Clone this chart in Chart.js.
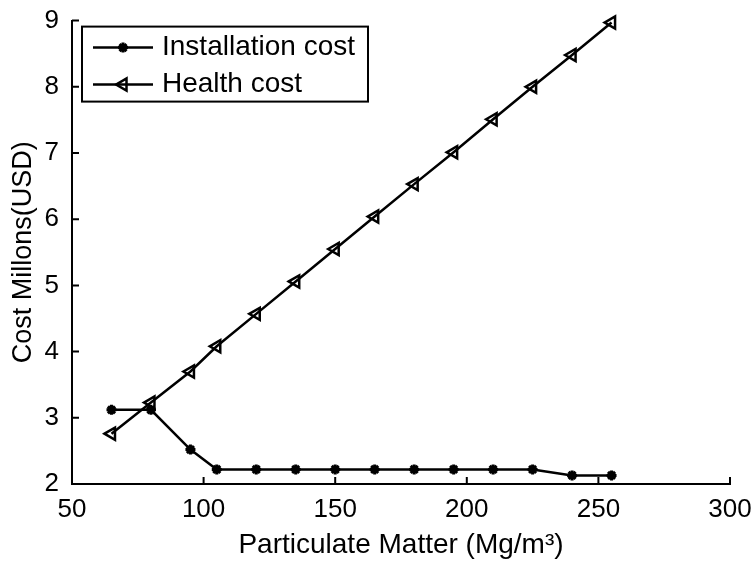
<!DOCTYPE html>
<html>
<head>
<meta charset="utf-8">
<title>Cost vs Particulate Matter</title>
<script src="https://cdn.jsdelivr.net/npm/chart.js@4.4.1/dist/chart.umd.min.js"></script>
<style>
  html, body { margin: 0; padding: 0; background: #fff; }
  #wrap { width: 756px; height: 563px; }
</style>
</head>
<body>
<div id="wrap"><canvas id="myChart" width="756" height="563"></canvas></div>
<script>
// data
const pmLevels = [65, 80, 95, 105, 120, 135, 150, 165, 180, 195, 210, 225, 240, 255];
const installationCost = [3.12, 3.12, 2.52, 2.22, 2.22, 2.22, 2.22, 2.22, 2.22, 2.22, 2.22, 2.22, 2.13, 2.13];
const healthCost = [2.76, 3.23, 3.70, 4.08, 4.57, 5.06, 5.55, 6.04, 6.53, 7.01, 7.51, 8.00, 8.48, 8.97];
const xTicks = [50, 100, 150, 200, 250, 300];
const yTicks = [2, 3, 4, 5, 6, 7, 8, 9];

const fontFamily = '"Liberation Sans", Arial, sans-serif';

// MATLAB style tick marks that point into the plot
const insideTicks = {
  id: 'insideTicks',
  afterDraw(chart) {
    const { ctx, chartArea, scales: { x, y } } = chart;
    ctx.save();
    ctx.strokeStyle = '#000';
    ctx.lineWidth = 2;
    ctx.beginPath();
    xTicks.forEach(v => {
      const px = x.getPixelForValue(v);
      ctx.moveTo(px, chartArea.bottom);
      ctx.lineTo(px, chartArea.bottom - 7);
    });
    yTicks.forEach(v => {
      const py = y.getPixelForValue(v);
      ctx.moveTo(chartArea.left, py);
      ctx.lineTo(chartArea.left + 7, py);
    });
    ctx.stroke();
    ctx.restore();
  }
};

// legend box drawn inside the top-left corner of the plot
const boxLegend = {
  id: 'boxLegend',
  afterDraw(chart) {
    const { ctx, chartArea } = chart;
    const bx = chartArea.left + 10, by = chartArea.top + 6;
    const bw = 286, bh = 75;
    ctx.save();
    ctx.fillStyle = '#fff';
    ctx.fillRect(bx, by, bw, bh);
    ctx.strokeStyle = '#000';
    ctx.lineWidth = 2;
    ctx.strokeRect(bx, by, bw, bh);

    chart.data.datasets.forEach((ds, i) => {
      const rowY = by + 21 + i * 37;
      ctx.strokeStyle = '#000';
      ctx.lineWidth = ds.borderWidth;
      ctx.beginPath();
      ctx.moveTo(bx + 11, rowY);
      ctx.lineTo(bx + 71, rowY);
      ctx.stroke();
      ctx.fillStyle = ds.pointBackgroundColor;
      ctx.lineWidth = ds.pointBorderWidth;
      Chart.helpers.drawPoint(ctx, {
        pointStyle: ds.pointStyle,
        radius: ds.pointRadius,
        rotation: ds.pointRotation,
        borderWidth: ds.pointBorderWidth
      }, bx + 41, rowY);

      ctx.fillStyle = '#000';
      ctx.font = '28px ' + fontFamily;
      ctx.textBaseline = 'middle';
      ctx.textAlign = 'left';
      ctx.fillText(ds.label, bx + 80, rowY);
    });
    ctx.restore();
  }
};

const chartContext = document.getElementById('myChart').getContext('2d');

const chart = new Chart(chartContext, {
  type: 'line',
  data: {
    datasets: [{
      label: 'Installation cost',
      data: pmLevels.map((x, i) => ({ x, y: installationCost[i] })),
      borderColor: '#000',
      borderWidth: 2.5,
      pointStyle: 'star',
      pointRadius: 5,
      pointRotation: 0,
      pointBorderWidth: 3,
      pointBorderColor: '#000',
      pointBackgroundColor: '#000',
      tension: 0,
      clip: false
    }, {
      label: 'Health cost',
      data: pmLevels.map((x, i) => ({ x, y: healthCost[i] })),
      borderColor: '#000',
      borderWidth: 2.5,
      pointStyle: 'triangle',
      pointRadius: 7,
      pointRotation: -90,
      pointBorderWidth: 2.5,
      pointBorderColor: '#000',
      pointBackgroundColor: 'rgba(0,0,0,0)',
      tension: 0,
      clip: false
    }]
  },
  options: {
    responsive: false,
    animation: false,
    events: [],
    layout: {
      padding: { top: 17, right: 26, bottom: 0, left: 0 }
    },
    plugins: {
      legend: { display: false },
      tooltip: { enabled: false }
    },
    scales: {
      x: {
        type: 'linear',
        min: 50,
        max: 300,
        afterBuildTicks: scale => { scale.ticks = xTicks.map(v => ({ value: v })); },
        afterFit: scale => { scale.height = 79; },
        grid: { display: false },
        border: { display: true, color: '#000', width: 2 },
        ticks: {
          color: '#000',
          padding: 2,
          maxRotation: 0,
          font: { size: 26, family: fontFamily }
        },
        title: {
          display: true,
          text: 'Particulate Matter (Mg/m³)',
          color: '#000',
          padding: { top: 0, bottom: 1 },
          font: { size: 28, family: fontFamily }
        }
      },
      y: {
        type: 'linear',
        min: 2,
        max: 9,
        afterBuildTicks: scale => { scale.ticks = yTicks.map(v => ({ value: v })); },
        afterFit: scale => { scale.width = 72; },
        grid: { display: false },
        border: { display: true, color: '#000', width: 2 },
        ticks: {
          color: '#000',
          padding: 5,
          font: { size: 26, family: fontFamily }
        },
        title: {
          display: true,
          text: 'Cost Millons(USD)',
          color: '#000',
          padding: { top: 7, bottom: 0 },
          font: { size: 27, family: fontFamily }
        }
      }
    }
  },
  plugins: [insideTicks, boxLegend]
});
</script>
</body>
</html>
